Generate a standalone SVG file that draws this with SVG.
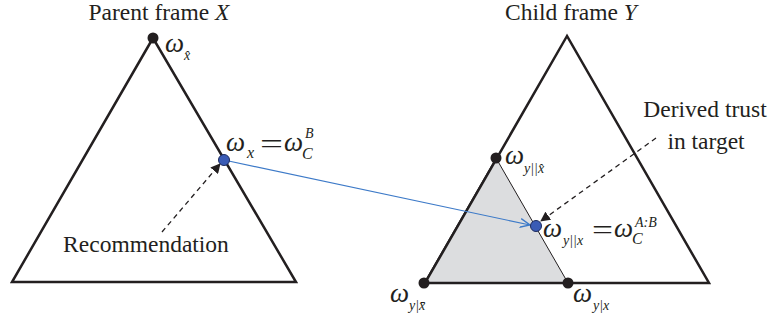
<svg xmlns="http://www.w3.org/2000/svg" width="770" height="321" viewBox="0 0 770 321">
<defs>
<style>
text{font-family:"Liberation Serif","Times New Roman",serif;fill:#231f20}
.t{font-size:23.5px}
.w{font-size:27px;font-style:italic}
.s{font-size:16px;font-style:italic}
.p{font-size:14px;font-style:italic}
.eq{font-size:27px}
.frame{fill:none;stroke:#231f20;stroke-width:2.5;stroke-linejoin:miter}
.dot{fill:#231f20}
.bdot{fill:#3a5bb5;stroke:#1c2a5c;stroke-width:1}
.dash{fill:none;stroke:#231f20;stroke-width:1.3;stroke-dasharray:5,4}
</style>
<marker id="ah" viewBox="0 0 10 10" refX="9" refY="5" markerWidth="10" markerHeight="10" orient="auto" markerUnits="userSpaceOnUse">
<path d="M0,0 L10,5 L0,10 z" fill="#231f20"/>
</marker>
<marker id="oa" viewBox="0 0 10 10" refX="9" refY="5" markerWidth="11" markerHeight="11" orient="auto" markerUnits="userSpaceOnUse">
<path d="M0,1 L9,5 L0,9" fill="none" stroke="#3d7ac8" stroke-width="1.2"/>
</marker>
</defs>
<g id="parent-frame">
<polygon class="frame" points="153,38 12,282 296,282"/>
<text class="t" x="159" y="20" text-anchor="middle">Parent frame <tspan font-style="italic">X</tspan></text>
</g>
<g id="child-frame">
<polygon points="496,158 424,283 568,283" fill="#dcdddf" stroke="#231f20" stroke-width="1"/>
<polygon class="frame" points="567,36 425,283 709,283"/>
<text class="t" x="571" y="20" text-anchor="middle">Child frame <tspan font-style="italic">Y</tspan></text>
</g>
<g id="node-x-hat">
<circle class="dot" cx="153" cy="38" r="5.5"/>
<text class="w" x="165" y="52" font-size="24">ω</text>
<text class="p" x="184" y="60">x̂</text>
</g>
<g id="node-y-xhat">
<circle class="dot" cx="496" cy="158" r="5.5"/>
<text class="w" x="505" y="164">ω</text>
<text class="p" x="524" y="173">y||x̂</text>
</g>
<g id="node-y-xbar">
<circle class="dot" cx="424" cy="283" r="5.5"/>
<text class="w" x="390" y="302">ω</text>
<text class="p" x="409" y="310">y|x̄</text>
</g>
<g id="node-y-x">
<circle class="dot" cx="568" cy="283" r="5.5"/>
<text class="w" x="573" y="302">ω</text>
<text class="p" x="593" y="310">y|x</text>
</g>
<g id="connectors">
<line x1="224" y1="160" x2="530" y2="225" stroke="#3d7ac8" stroke-width="1.2" marker-end="url(#oa)"/>
<line class="dash" x1="162" y1="232" x2="220" y2="164" marker-end="url(#ah)"/>
<line class="dash" x1="656" y1="138" x2="541" y2="221" marker-end="url(#ah)"/>
</g>
<g id="node-omega-x">
<circle class="bdot" cx="224" cy="160" r="5.5"/>
<text class="w" x="226" y="151">ω</text>
<text class="s" x="247" y="158">x</text>
<text class="eq" x="260" y="153" textLength="23" lengthAdjust="spacingAndGlyphs">=</text>
<text class="w" x="284" y="151">ω</text>
<text class="s" x="302" y="159">C</text>
<text class="p" x="305" y="138">B</text>
</g>
<g id="node-omega-yx">
<circle class="bdot" cx="536" cy="226" r="5.5"/>
<text class="w" x="543" y="237">ω</text>
<text class="p" x="563" y="245">y||x</text>
<text class="eq" x="592" y="239" textLength="21" lengthAdjust="spacingAndGlyphs">=</text>
<text class="w" x="614" y="237">ω</text>
<text class="s" x="632" y="244">C</text>
<text class="p" x="635" y="227">A:B</text>
</g>
<g id="label-recommendation">
<text class="t" x="146" y="252" text-anchor="middle">Recommendation</text>
</g>
<g id="label-derived">
<text class="t" x="705" y="117" text-anchor="middle">Derived trust</text>
<text class="t" x="706" y="149" text-anchor="middle">in target</text>
</g>
</svg>
